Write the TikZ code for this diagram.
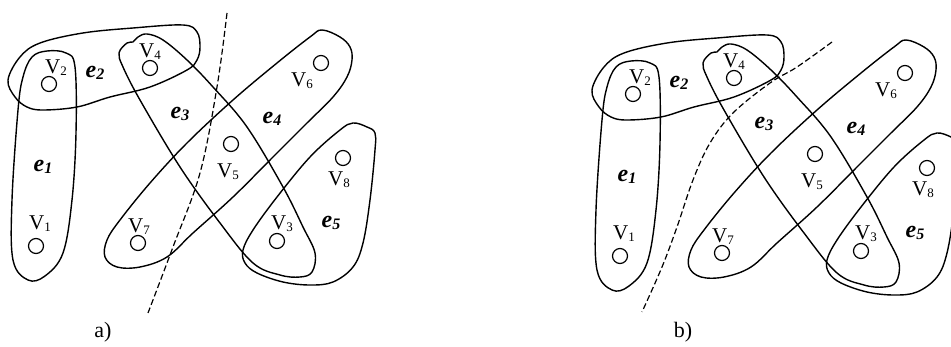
\documentclass[tikz,border=0pt]{standalone}
\usepackage{fontspec}
\setmainfont{Liberation Serif}
\tikzset{
 vtx/.style={circle, draw, line width=1.2pt, minimum size=15pt, inner sep=0pt},
 vlab/.style={font=\fontsize{21}{21}\selectfont, inner sep=0pt},
 elab/.style={font=\fontsize{24}{24}\selectfont\bfseries\itshape, inner sep=0pt},
 hedge/.style={line width=1.4pt, line join=round},
 cutline/.style={line width=1.2pt, dash pattern=on 6pt off 3pt},
 caption/.style={font=\fontsize{22}{22}\selectfont, inner sep=0pt},
}
\newcommand\vl[1]{V\raisebox{-2pt}{\fontsize{13}{13}\selectfont #1}}
\newcommand\el[1]{e\raisebox{-2.5pt}{\fontsize{16}{16}\selectfont #1}}
\newcommand\hpanel[1]{%
 % hyperedges
 \draw[hedge] plot[smooth cycle, tension=0.6] coordinates {(47,51) (32,57) (23,77) (18,110) (12,200) (13,260) (28,280) (45,276) (63,253) (72,200) (76,133) (75,67) (66,53)};
 \draw[hedge] plot[smooth cycle, tension=0.6] coordinates {(20,57) (40,43) (83,33) (133,28) (183,25) (197,32) (200,47) (197,60) (187,70) (150,87) (110,97) (77,107) (43,110) (27,107) (15,97) (8,80)};
 \draw[hedge] plot[smooth cycle, tension=0.6] coordinates {(119,53) (127,43) (133,42) (138,37) (147,34) (163,40) (187,60) (213,87) (247,127) (283,187) (303,227) (315,253) (312,272) (300,277) (280,275) (253,263) (220,223) (180,167) (140,100) (123,67)};
 \draw[hedge] plot[smooth cycle, tension=0.6] coordinates {(322,30) (340,37) (350,47) (352,60) (347,77) (333,97) (307,123) (273,157) (233,197) (193,233) (167,257) (140,267) (117,267) (105,257) (107,240) (120,220) (150,183) (187,143) (233,100) (277,63) (310,37)};
 \draw[hedge] plot[smooth cycle, tension=0.6] coordinates {(367,127) (375,133) (375,150) (370,200) (363,243) (353,267) (333,282) (310,285) (283,282) (257,273) (245,263) (243,250) (253,230) (277,197) (310,157) (340,130) (353,123)};
 % vertices
 \node[vtx] (#1v1) at (36,246) {};
 \node[vtx] (#1v2) at (49,84) {};
 \node[vtx] (#1v3) at (277,241) {};
 \node[vtx] (#1v4) at (150,68) {};
 \node[vtx] (#1v5) at (231,144) {};
 \node[vtx] (#1v6) at (321,63) {};
 \node[vtx] (#1v7) at (138,243) {};
 \node[vtx] (#1v8) at (343,158) {};
 % vertex labels
 \node[vlab] (#1l1) at (40,224) {\vl{1}};
 \node[vlab] (#1l2) at (56,68) {\vl{2}};
 \node[vlab] (#1l3) at (282,224) {\vl{3}};
 \node[vlab] (#1l4) at (150,52) {\vl{4}};
 \node[vlab] (#1l5) at (228,172) {\vl{5}};
 \node[vlab] (#1l6) at (302,81) {\vl{6}};
 \node[vlab] (#1l7) at (139,227) {\vl{7}};
 \node[vlab] (#1l8) at (339,180) {\vl{8}};
 % edge labels
 \node[elab] (#1e1) at (43,167) {\el{1}};
 \node[elab] (#1e2) at (95,73) {\el{2}};
 \node[elab] (#1e3) at (180,114) {\el{3}};
 \node[elab] (#1e4) at (272,119) {\el{4}};
 \node[elab] (#1e5) at (331,223) {\el{5}};
}
\begin{document}
\begin{tikzpicture}[x=1pt, y=-1pt]
\useasboundingbox (0,0) rectangle (951,347);
\clip (0,0) rectangle (951,347);
\fill[white] (0,0) rectangle (951,347);
% panel a
\begin{scope}
 \hpanel{a}
 \draw[cutline] plot[smooth, tension=0.6] coordinates {(227,13) (217,87) (200,173) (173,247) (148,313)};
 \node[caption] (capa) at (103,332) {a)};
\end{scope}
% panel b
\begin{scope}[shift={(584,10)}]
 \hpanel{b}
\end{scope}
\draw[cutline] plot[smooth, tension=0.6] coordinates {(832,42) (797,67) (770,83) (733,113) (710,143) (693,180) (677,227) (662,267) (642,312)};
\node[caption] (capb) at (683,332) {b)};
\end{tikzpicture}
\end{document}
